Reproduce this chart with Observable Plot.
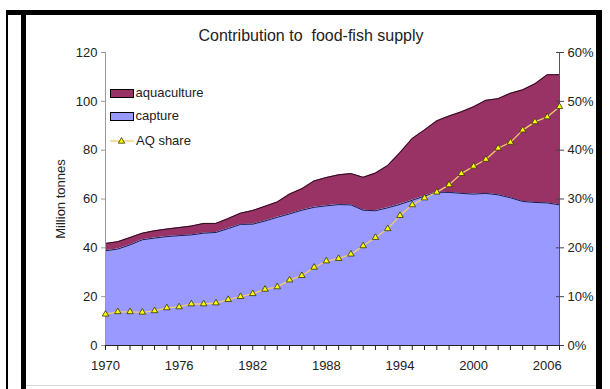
<!DOCTYPE html>
<html>
<head>
<meta charset="utf-8">
<script src="https://cdn.jsdelivr.net/npm/d3@7"></script>
<script src="https://cdn.jsdelivr.net/npm/@observablehq/plot@0.6"></script>
<style>
  html, body { margin: 0; padding: 0; background: #fff; }
  #wrap { position: relative; width: 610px; height: 389px; overflow: hidden; background: #fff;
          font-family: "Liberation Sans", Arial, sans-serif; color: #222; }
  .bar { position: absolute; background: #000; }
  #title { position: absolute; left: 0; width: 622px; top: 27px; text-align: center;
           font-size: 16px; line-height: 18px; white-space: pre; color: #222; }
  #legend { position: absolute; left: 0; top: 0; }
  #chart { position: absolute; left: 0; top: 0; }
</style>
</head>
<body>
<div id="wrap">
  <div id="chart"></div>
  <!-- slide frame -->
  <div class="bar" style="left:6px; top:10px; width:2px; height:379px;"></div>
  <div class="bar" style="left:7px; top:10px; width:595px; height:5px;"></div>
  <div class="bar" style="left:21px; top:10px; width:5px; height:379px;"></div>
  <div class="bar" style="left:596px; top:10px; width:6px; height:379px;"></div>
  <div class="bar" style="left:26px; top:385px; width:570px; height:1px; background:#d8d8d8;"></div>
  <div id="title">Contribution to  food-fish supply</div>
  <svg id="legend" width="610" height="389" font-family="Liberation Sans, Arial, sans-serif" font-size="13" fill="#222">
    <rect x="110.5" y="89.5" width="23" height="8" fill="#993366" stroke="#000" stroke-width="1"></rect>
    <text x="135.5" y="93.5" dominant-baseline="middle">aquaculture</text>
    <rect x="110.5" y="112.5" width="23" height="8" fill="#9999FF" stroke="#000" stroke-width="1"></rect>
    <text x="135.5" y="117" dominant-baseline="middle">capture</text>
    <line x1="110" x2="134" y1="141" y2="141" stroke="#F2CC6E" stroke-width="1.3"></line>
    <path d="M121.5,137.6L124.7,143.2L118.3,143.2Z" fill="#FFFF00" stroke="#333300" stroke-width="0.8"></path>
    <text x="136" y="141.5" dominant-baseline="middle">AQ share</text>
  </svg>
</div>
<script>
// World food-fish supply, 1970–2007 (million tonnes) and aquaculture share (%)
const years = [1970, 1971, 1972, 1973, 1974, 1975, 1976, 1977, 1978, 1979,
               1980, 1981, 1982, 1983, 1984, 1985, 1986, 1987, 1988, 1989,
               1990, 1991, 1992, 1993, 1994, 1995, 1996, 1997, 1998, 1999,
               2000, 2001, 2002, 2003, 2004, 2005, 2006, 2007];

const capture = [38.8, 39.5, 41.2, 43.3, 44.0, 44.6, 45.0, 45.3, 46.0, 46.3,
                 47.9, 49.6, 49.7, 51.0, 52.5, 53.9, 55.4, 56.6, 57.2, 57.7,
                 57.6, 55.4, 55.2, 56.4, 57.8, 59.5, 61.2, 62.8, 62.7, 62.3,
                 62.0, 62.3, 61.7, 60.5, 59.0, 58.6, 58.4, 57.6];

const aquaculture = [3.0, 3.0, 3.0, 2.7, 3.0, 3.1, 3.3, 3.6, 4.0, 3.7,
                     4.1, 4.6, 5.6, 6.0, 6.3, 8.1, 8.8, 10.8, 11.6, 12.2,
                     12.8, 13.5, 15.4, 17.3, 21.2, 25.3, 27.1, 29.2, 31.3, 33.4,
                     35.8, 38.1, 39.4, 42.8, 45.7, 48.6, 52.5, 53.3];

const aqShare = [6.4, 6.9, 6.9, 6.8, 7.1, 7.7, 7.9, 8.5, 8.5, 8.7,
                 9.4, 10.0, 10.6, 11.5, 12.0, 13.4, 14.3, 16.0, 17.3, 17.8,
                 18.7, 20.4, 22.1, 23.9, 26.6, 28.8, 30.2, 31.4, 32.9, 35.2,
                 36.7, 38.1, 40.4, 41.6, 44.1, 45.8, 46.8, 48.9];

const leftTicks = [0, 20, 40, 60, 80, 100, 120];
const rightTicks = [0, 10, 20, 30, 40, 50, 60];
const labelEvery = 6;

const rows = years.map((year, i) => ({
  year,
  capture: capture[i],
  aquaculture: aquaculture[i],
  total: capture[i] + aquaculture[i],
  share: aqShare[i]
}));

// share (0–60 %) is drawn against the tonnage scale (0–120)
const shareToY = s => s * 2;

const chart = Plot.plot({
  width: 610,
  height: 389,
  marginLeft: 105,
  marginRight: 51,
  marginTop: 52,
  marginBottom: 44,
  style: { fontFamily: "Liberation Sans, Arial, sans-serif", fontSize: "13px", color: "#222", background: "transparent" },
  x: { domain: [1970, 2007] },
  y: { domain: [0, 120] },
  marks: [
    Plot.areaY(rows, { x: "year", y1: "capture", y2: "total", fill: "#993366" }),
    Plot.areaY(rows, { x: "year", y: "capture", fill: "#9999FF" }),
    Plot.lineY(rows, { x: "year", y: "total", stroke: "#2a0c1c", strokeWidth: 1 }),
    Plot.lineY(rows, { x: "year", y: "capture", stroke: "#1c1c48", strokeWidth: 1 }),
    Plot.ruleX([1970], { stroke: "#9a9a9a" }),
    Plot.ruleX([2007], { stroke: "#555" }),
    Plot.axisY({
      anchor: "left", ticks: leftTicks, tickSize: 4, tickPadding: 4, stroke: "#9a9a9a",
      label: "Million tonnes", labelAnchor: "center", labelArrow: "none", labelOffset: 50
    }),
    Plot.axisY({
      anchor: "right", ticks: rightTicks.map(shareToY), tickSize: 8, dx: -4, tickPadding: 4,
      stroke: "#444", tickFormat: d => `${d / 2}%`, label: null
    }),
    Plot.axisX({
      ticks: years, tickSize: 5, tickPadding: 10, stroke: "#222",
      tickFormat: d => (d - 1970) % labelEvery === 0 ? String(d) : "", label: null
    }),
    Plot.ruleY([0], { stroke: "#222" }),
    Plot.lineY(rows, { x: "year", y: d => shareToY(d.share), stroke: "#F2CC6E", strokeWidth: 1.3 }),
    Plot.dot(rows, {
      x: "year", y: d => shareToY(d.share), symbol: "triangle", r: 2.4,
      fill: "#FFFF00", stroke: "#333300", strokeWidth: 0.8
    })
  ]
});

document.getElementById("chart").appendChild(chart);
</script>
</body>
</html>
